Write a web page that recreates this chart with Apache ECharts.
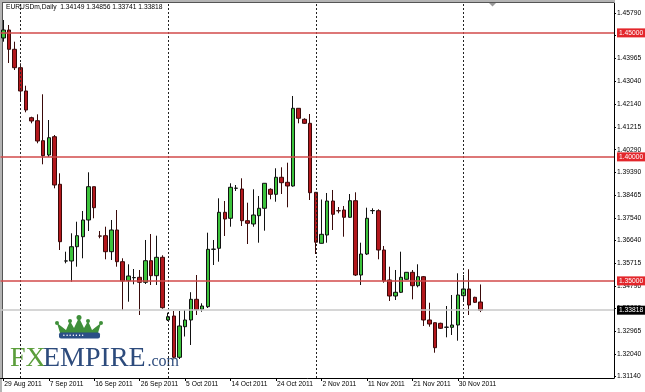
<!DOCTYPE html>
<html>
<head>
<meta charset="utf-8">
<script src="https://cdn.jsdelivr.net/npm/echarts@6/dist/echarts.min.js"></script>
<style>
html,body{margin:0;padding:0;background:#fff;}
#chart{width:645px;height:392px;}
</style>
</head>
<body>
<div id="chart"></div>
<script>
// ---- data ----
const symbolName = 'EURUSDm,Daily';
const dates = [
'29 Aug 2011','30 Aug 2011','31 Aug 2011','1 Sep 2011','2 Sep 2011','4 Sep 2011','5 Sep 2011','6 Sep 2011',
'7 Sep 2011','8 Sep 2011','9 Sep 2011','11 Sep 2011','12 Sep 2011','13 Sep 2011','14 Sep 2011','15 Sep 2011',
'16 Sep 2011','18 Sep 2011','19 Sep 2011','20 Sep 2011','21 Sep 2011','22 Sep 2011','23 Sep 2011','25 Sep 2011',
'26 Sep 2011','27 Sep 2011','28 Sep 2011','29 Sep 2011','30 Sep 2011','2 Oct 2011','3 Oct 2011','4 Oct 2011',
'5 Oct 2011','6 Oct 2011','7 Oct 2011','9 Oct 2011','10 Oct 2011','11 Oct 2011','12 Oct 2011','13 Oct 2011',
'14 Oct 2011','16 Oct 2011','17 Oct 2011','18 Oct 2011','19 Oct 2011','20 Oct 2011','21 Oct 2011','23 Oct 2011',
'24 Oct 2011','25 Oct 2011','26 Oct 2011','27 Oct 2011','28 Oct 2011','30 Oct 2011','31 Oct 2011','1 Nov 2011',
'2 Nov 2011','3 Nov 2011','4 Nov 2011','6 Nov 2011','7 Nov 2011','8 Nov 2011','9 Nov 2011','10 Nov 2011',
'11 Nov 2011','13 Nov 2011','14 Nov 2011','15 Nov 2011','16 Nov 2011','17 Nov 2011','18 Nov 2011','20 Nov 2011',
'21 Nov 2011','22 Nov 2011','23 Nov 2011','24 Nov 2011','25 Nov 2011','27 Nov 2011','28 Nov 2011','29 Nov 2011',
'30 Nov 2011','1 Dec 2011','2 Dec 2011','4 Dec 2011','5 Dec 2011'
];
const opens = [
1.44794,1.45116,1.44338,1.43596,1.42657,1.41580,1.41459,1.40653,1.40076,1.40814,
1.38895,1.35800,1.35802,1.36378,1.36781,1.37455,1.38798,1.36810,1.36822,1.36177,
1.37052,1.35774,1.35007,1.35128,1.35144,1.34943,1.35814,1.35209,1.35951,1.33423,
1.33584,1.31919,1.33153,1.33423,1.34257,1.33854,1.33959,1.36273,1.36314,1.37765,
1.37524,1.38733,1.38705,1.37427,1.37294,1.37629,1.37927,1.38693,1.38491,1.39177,
1.38975,1.38826,1.41959,1.41516,1.41354,1.38572,1.36515,1.36850,1.38221,1.37830,
1.37858,1.37564,1.38233,1.35237,1.36084,1.37830,1.37830,1.36245,1.35036,1.34390,
1.34540,1.35064,1.35346,1.34806,1.35169,1.33423,1.33314,1.33289,1.33128,1.33128,
1.33221,1.34403,1.34673,1.34338,1.34149
];
const closes = [
1.45116,1.44338,1.43596,1.42657,1.41890,1.41447,1.40640,1.40048,1.40774,1.38866,
1.36580,1.35805,1.36378,1.36822,1.37455,1.38798,1.37951,1.36805,1.36177,1.37052,
1.35774,1.34995,1.35197,1.35135,1.34943,1.35814,1.35209,1.35951,1.33919,1.33556,
1.31919,1.33181,1.33423,1.34257,1.33838,1.33987,1.36273,1.36280,1.37765,1.37495,
1.38774,1.38740,1.37427,1.37322,1.37657,1.37927,1.38935,1.38491,1.39177,1.38959,
1.38826,1.41959,1.41556,1.41354,1.38556,1.36560,1.36878,1.38221,1.37685,1.37825,
1.37564,1.38233,1.35237,1.36084,1.37524,1.37836,1.36245,1.34995,1.34390,1.34540,
1.35144,1.35346,1.34806,1.35169,1.33423,1.33261,1.32306,1.33088,1.33135,1.33221,
1.34431,1.34673,1.34028,1.34136,1.33818
];
const highs = [
1.45520,1.45318,1.44645,1.43774,1.42870,1.41620,1.41717,1.42524,1.41487,1.40882,
1.39338,1.36177,1.36919,1.37386,1.37818,1.39378,1.38800,1.37011,1.37185,1.37455,
1.37858,1.35911,1.35669,1.35479,1.35439,1.36649,1.36890,1.36822,1.36032,1.33717,
1.33786,1.33786,1.33826,1.34544,1.35237,1.34096,1.36943,1.36649,1.38330,1.38221,
1.38935,1.38866,1.39136,1.38153,1.38693,1.38423,1.38940,1.38733,1.39540,1.39580,
1.39765,1.42455,1.41965,1.41556,1.41729,1.38580,1.38282,1.38544,1.38665,1.37979,
1.38020,1.38503,1.38572,1.36540,1.37951,1.37927,1.37886,1.36407,1.35572,1.35439,
1.36177,1.35350,1.35439,1.35669,1.35197,1.34120,1.33320,1.33314,1.33987,1.34431,
1.35306,1.35237,1.35467,1.34360,1.34856
];
const lows = [
1.44645,1.43786,1.43503,1.42225,1.41798,1.41354,1.40548,1.39701,1.39995,1.38733,
1.36245,1.35709,1.34967,1.35572,1.35911,1.37011,1.37524,1.36717,1.35870,1.35842,
1.35572,1.33826,1.34161,1.34862,1.33624,1.34874,1.34834,1.34834,1.33878,1.33382,
1.31870,1.31850,1.32757,1.32415,1.33624,1.33757,1.33906,1.35640,1.35774,1.36810,
1.37185,1.38624,1.37213,1.36487,1.37185,1.36540,1.37024,1.38290,1.38193,1.38503,
1.37967,1.38798,1.41354,1.41326,1.38261,1.36084,1.36507,1.36540,1.37052,1.37725,
1.36781,1.37555,1.35197,1.34834,1.36044,1.37697,1.35870,1.34927,1.34189,1.34229,
1.34510,1.35050,1.34257,1.34740,1.33181,1.33153,1.32104,1.33060,1.32725,1.32818,
1.32588,1.34161,1.33624,1.34108,1.33741
];
const priceTicks = [1.45790,1.44890,1.43965,1.43040,1.42140,1.41215,1.40290,1.39390,1.38465,
  1.37540,1.36640,1.35715,1.34790,1.33890,1.32965,1.32040,1.31140];
const levels = [1.45000, 1.40000, 1.35000];
const separators = ['1 Sep 2011','2 Oct 2011','1 Nov 2011','1 Dec 2011'];
const emptySlots = 23;   // blank space right of the last bar
const labelEvery = 8;

// ---- build ----
const last = dates.length - 1;
const lastPrice = closes[last];
const categories = dates.concat(Array.from({length: emptySlots}, (_, i) => '_pad' + i));
const ohlc = dates.map((d, i) => [opens[i], closes[i], lows[i], highs[i]]);
const showDate = (idx) => idx % labelEvery === 0 && idx <= last;

const FONT = 'Liberation Sans';
const FS = 6.7;

const tagLabel = (bg) => ({show: true, position: 'end', distance: 3, formatter: p => Number(p.value).toFixed(5),
  backgroundColor: bg, color: '#fff', fontSize: FS, fontFamily: FONT, padding: [1, 2, 1, 2]});

const chart = echarts.init(document.getElementById('chart'), null, {renderer: 'canvas'});
chart.setOption({
  animation: false,
  backgroundColor: '#fff',
  grid: {left: 0.5, right: 31, top: 3, bottom: 14, containLabel: false},
  xAxis: {
    type: 'category', data: categories, boundaryGap: true,
    axisLine: {show: true, lineStyle: {color: '#000', width: 1}},
    axisTick: {show: true, alignWithLabel: true, interval: showDate, length: 3, lineStyle: {color: '#000'}},
    axisLabel: {show: true, interval: showDate, align: 'left', margin: 3, fontSize: FS, fontFamily: FONT,
      color: '#000', padding: [0, 0, 0, 1]},
    splitLine: {show: false}
  },
  yAxis: {
    type: 'value', position: 'right', scale: true,
    min: 1.31084, max: 1.46205,
    axisLine: {show: true, lineStyle: {color: '#000', width: 1}},
    axisTick: {show: true, customValues: priceTicks, length: 2, lineStyle: {color: '#000'}},
    axisLabel: {show: true, customValues: priceTicks, margin: 3, fontSize: FS, fontFamily: FONT, color: '#000',
      formatter: v => v.toFixed(5)},
    splitLine: {show: false}
  },
  graphic: [
    {type: 'rect', shape: {x: 0, y: 0, width: 615, height: 2}, style: {fill: '#b4b4b4'}, silent: true},
    {type: 'rect', shape: {x: 0, y: 0, width: 2, height: 392}, style: {fill: '#b4b4b4'}, silent: true},
    {type: 'line', shape: {x1: 2, y1: 2.5, x2: 614, y2: 2.5}, style: {stroke: '#555', lineWidth: 1}, silent: true},
    {type: 'line', shape: {x1: 2.5, y1: 2, x2: 2.5, y2: 378}, style: {stroke: '#555', lineWidth: 1}, silent: true},
    {type: 'polygon', shape: {points: [[489, 3], [496, 3], [492.5, 6.5]]}, style: {fill: '#999'}, silent: true},
    {type: 'text', left: 6, top: 4, silent: true,
      style: {text: symbolName + '  ' + [opens[last], highs[last], lows[last], closes[last]].map(v => v.toFixed(5)).join(' '),
        fill: '#000', font: FS + 'px ' + FONT}},
    // logo crown
    {type: 'polygon', silent: true, z: -1,
      shape: {points: [[57, 323], [66, 330], [70, 321], [74, 328], [79, 317.5], [84, 328], [88, 321], [92, 330], [101, 323], [98, 333], [60, 333]]},
      style: {fill: '#3f8f3a'}},
    {type: 'circle', silent: true, shape: {cx: 57, cy: 323, r: 2}, style: {fill: '#3f8f3a'}},
    {type: 'circle', silent: true, shape: {cx: 70, cy: 321, r: 2}, style: {fill: '#3f8f3a'}},
    {type: 'circle', silent: true, shape: {cx: 79, cy: 317.5, r: 2.5}, style: {fill: '#3f8f3a'}},
    {type: 'circle', silent: true, shape: {cx: 88, cy: 321, r: 2}, style: {fill: '#3f8f3a'}},
    {type: 'circle', silent: true, shape: {cx: 101, cy: 323, r: 2}, style: {fill: '#3f8f3a'}},
    {type: 'rect', silent: true, shape: {x: 59, y: 332.5, width: 41, height: 6, r: 2}, style: {fill: '#2b4f86'}},
    {type: 'text', silent: true, left: 63, top: 332.8, style: {text: '• • • • • • •', fill: '#fff', font: '5px ' + FONT}},
    // logo text
    {type: 'text', silent: true, x: 10, y: 359,
      style: {text: 'FX', fill: '#5b9e3b', font: '28px "Liberation Serif"', verticalAlign: 'middle', align: 'left'}},
    {type: 'text', silent: true, x: 43, y: 359,
      style: {text: 'EMPIRE', fill: '#2d4b7c', font: '28px "Liberation Serif"', verticalAlign: 'middle', align: 'left'}},
    {type: 'text', silent: true, x: 147.5, y: 362,
      style: {text: '.com', fill: '#2d4b7c', font: '16px "Liberation Serif"', verticalAlign: 'middle', align: 'left'}}
  ],
  series: [
    {
      name: 'separators', type: 'line', data: [], silent: true,
      markLine: {silent: true, symbol: ['none', 'none'], animation: false,
        lineStyle: {color: '#222', width: 1, type: [2, 2]}, label: {show: false},
        data: separators.map(s => ({xAxis: s}))}
    },
    {
      name: 'last', type: 'line', data: [], silent: true,
      markLine: {silent: true, symbol: ['none', 'none'], animation: false, precision: 5,
        lineStyle: {color: '#c8c8c8', width: 1.5, type: 'solid'}, label: tagLabel('#000'),
        data: [{yAxis: lastPrice}]}
    },
    {
      name: 'levels', type: 'line', data: [], silent: true,
      markLine: {silent: true, symbol: ['none', 'none'], animation: false, precision: 5,
        lineStyle: {color: '#d24a4a', width: 1.6, type: 'solid'}, label: tagLabel('#e3262b'),
        data: levels.map(v => ({yAxis: v}))}
    },
    {
      name: 'EURUSD', type: 'candlestick', z: 3,
      data: ohlc,
      barWidth: 4,
      itemStyle: {color: '#3cc33c', color0: '#b3171c', borderColor: '#111', borderColor0: '#3a0a0a', borderWidth: 1}
    }
  ]
});
</script>
</body>
</html>
